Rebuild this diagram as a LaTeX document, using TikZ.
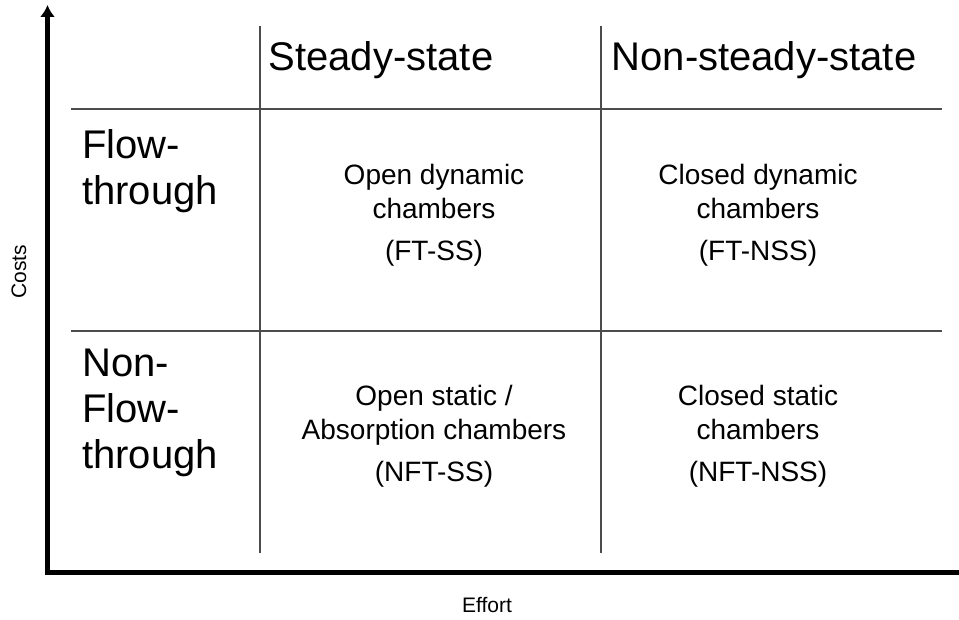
\documentclass[tikz,border=0pt]{standalone}
\usepackage{fontspec}
\setmainfont{Liberation Sans}
\usepackage{tikz}
\usetikzlibrary{arrows.meta}
\tikzstyle{axis} = [draw, line width=5pt, line join=miter, {Latex[length=12pt,width=15pt]}-]
\tikzstyle{gridline} = [draw, line width=1.5pt, black!70]
\tikzstyle{colhead} = [inner sep=0pt, font=\fontsize{40}{46}\selectfont]
\tikzstyle{rowhead} = [inner sep=0pt, align=left, anchor=base west, font=\fontsize{40}{46}\selectfont]
\tikzstyle{cell} = [inner sep=0pt, align=center, font=\fontsize{28}{34}\selectfont]
\tikzstyle{axlabel} = [inner sep=0pt, font=\fontsize{21}{25}\selectfont]

\begin{document}
\begin{tikzpicture}[x=1pt, y=1pt]
		\useasboundingbox (0,0) rectangle (959,620);
		
		% axes
		\coordinate (orig) at (47.5,47.5);
		\coordinate (ytop) at (47.5,615);
		\coordinate (xend) at (962,47.5);
		\draw [axis] (ytop) -- (orig) -- (xend);
		\node [axlabel, rotate=90] (costs) at (19,348) {Costs};
		\node [axlabel] (effort) at (487,15) {Effort};
		
		% grid
		\draw [gridline] (260,594) -- (260,67);
		\draw [gridline] (601,594) -- (601,67);
		\draw [gridline] (71,511) -- (942,511);
		\draw [gridline] (71,289) -- (942,289);
		
		% column headings
		\node [colhead] (ss) at (381,560) {Steady-state};
		\node [colhead, right of=ss, node distance=383pt] (nss) {Non-steady-state};
		
		% row headings (base = last line)
		\node [rowhead] (ft) at (82,415) {Flow-\\through};
		\node [rowhead] (nft) at (82,151) {Non-\\Flow-\\through};
		
		% cells
		\node [cell, anchor=base] (ftss) at (434,359) {Open dynamic\\chambers\\[8pt](FT-SS)};
		\node [cell, right of=ftss, node distance=324pt] (ftnss) {Closed dynamic\\chambers\\[8pt](FT-NSS)};
		\node [cell, below of=ftss, node distance=221pt] (nftss) {Open static /\\Absorption chambers\\[8pt](NFT-SS)};
		\node [cell, right of=nftss, node distance=324pt] (nftnss) {Closed static\\chambers\\[8pt](NFT-NSS)};
\end{tikzpicture}
\end{document}
